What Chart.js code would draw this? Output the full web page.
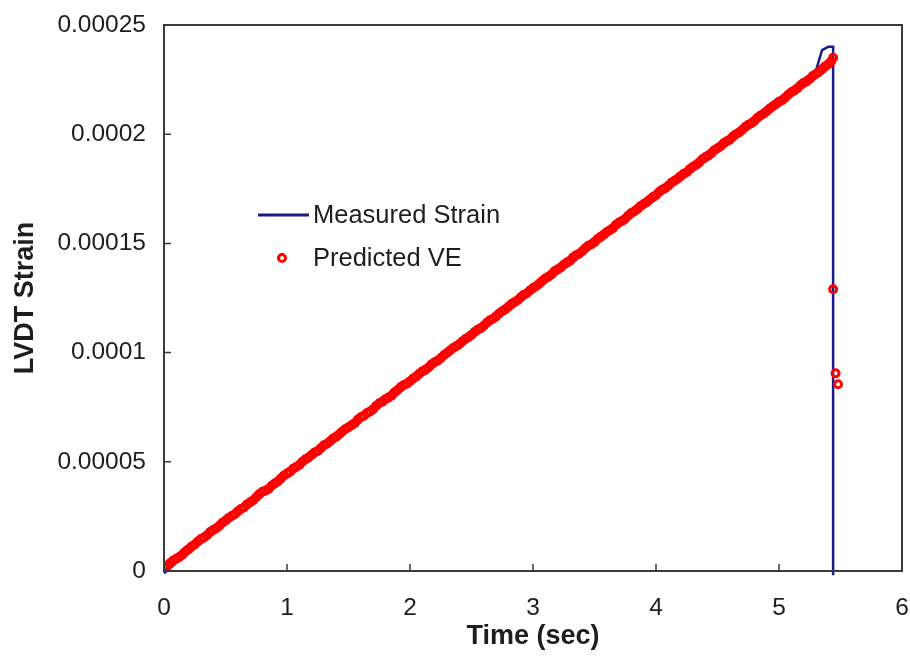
<!DOCTYPE html>
<html>
<head>
<meta charset="utf-8">
<script src="https://cdn.jsdelivr.net/npm/chart.js@4.4.1/dist/chart.umd.min.js"></script>
<style>
  html, body { margin: 0; padding: 0; background: #fff; }
  #wrap { width: 910px; height: 656px; }
</style>
</head>
<body>
<div id="wrap"><canvas id="strainChart" width="910" height="656"></canvas></div>
<script>
// measured LVDT record: time (sec) and strain (microstrain)
const measuredTime = [
  0, 0.05, 0.1, 0.15, 0.2, 0.25, 0.3, 0.35, 0.4, 0.45,
  0.5, 0.55, 0.6, 0.65, 0.7, 0.75, 0.8, 0.85, 0.9, 0.95,
  1, 1.05, 1.1, 1.15, 1.2, 1.25, 1.3, 1.35, 1.4, 1.45,
  1.5, 1.55, 1.6, 1.65, 1.7, 1.75, 1.8, 1.85, 1.9, 1.95,
  2, 2.05, 2.1, 2.15, 2.2, 2.25, 2.3, 2.35, 2.4, 2.45,
  2.5, 2.55, 2.6, 2.65, 2.7, 2.75, 2.8, 2.85, 2.9, 2.95,
  3, 3.05, 3.1, 3.15, 3.2, 3.25, 3.3, 3.35, 3.4, 3.45,
  3.5, 3.55, 3.6, 3.65, 3.7, 3.75, 3.8, 3.85, 3.9, 3.95,
  4, 4.05, 4.1, 4.15, 4.2, 4.25, 4.3, 4.35, 4.4, 4.45,
  4.5, 4.55, 4.6, 4.65, 4.7, 4.75, 4.8, 4.85, 4.9, 4.95,
  5, 5.05, 5.1, 5.15, 5.2, 5.25, 5.3, 5.35, 5.4, 5.44, 5.44
];
const measuredMicro = [
  -1.0, 1.2, 3.8, 6.0, 8.1, 10.6, 12.8, 15.1, 17.0, 19.6,
  21.5, 23.9, 25.8, 28.0, 30.2, 32.4, 34.9, 36.5, 38.8, 41.2,
  43.0, 45.5, 47.3, 49.8, 51.9, 53.6, 56.3, 58.1, 60.4, 62.6,
  64.5, 66.8, 69.0, 71.1, 73.0, 75.6, 77.4, 79.5, 81.8, 84.0,
  85.9, 88.0, 90.3, 92.1, 94.6, 96.5, 98.7, 101.0, 102.9, 105.2,
  107.3, 109.5, 111.4, 113.8, 115.7, 118.0, 120.1, 122.2, 124.4, 126.4,
  128.7, 130.7, 133.0, 135.0, 137.2, 139.4, 141.3, 143.7, 145.6, 148.1,
  149.9, 152.2, 154.4, 156.3, 158.8, 160.6, 163.1, 165.0, 167.3, 169.4,
  171.4, 173.8, 175.7, 178.0, 180.1, 182.0, 184.4, 186.4, 188.7, 190.7,
  192.9, 195.1, 196.9, 199.3, 201.3, 203.6, 205.5, 207.9, 209.9, 212.1,
  214.2, 216.1, 218.5, 220.5, 222.9, 225.2, 229.0, 238.5, 240.0, 240.0, -2.0
];

// viscoelastic prediction: time (sec) and strain (microstrain)
const predictedTime = [
  0, 0.025, 0.05, 0.075, 0.1, 0.125, 0.15, 0.175, 0.2, 0.225,
  0.25, 0.275, 0.3, 0.325, 0.35, 0.375, 0.4, 0.425, 0.45, 0.475,
  0.5, 0.525, 0.55, 0.575, 0.6, 0.625, 0.65, 0.675, 0.7, 0.725,
  0.75, 0.775, 0.8, 0.825, 0.85, 0.875, 0.9, 0.925, 0.95, 0.975,
  1, 1.025, 1.05, 1.075, 1.1, 1.125, 1.15, 1.175, 1.2, 1.225,
  1.25, 1.275, 1.3, 1.325, 1.35, 1.375, 1.4, 1.425, 1.45, 1.475,
  1.5, 1.525, 1.55, 1.575, 1.6, 1.625, 1.65, 1.675, 1.7, 1.725,
  1.75, 1.775, 1.8, 1.825, 1.85, 1.875, 1.9, 1.925, 1.95, 1.975,
  2, 2.025, 2.05, 2.075, 2.1, 2.125, 2.15, 2.175, 2.2, 2.225,
  2.25, 2.275, 2.3, 2.325, 2.35, 2.375, 2.4, 2.425, 2.45, 2.475,
  2.5, 2.525, 2.55, 2.575, 2.6, 2.625, 2.65, 2.675, 2.7, 2.725,
  2.75, 2.775, 2.8, 2.825, 2.85, 2.875, 2.9, 2.925, 2.95, 2.975,
  3, 3.025, 3.05, 3.075, 3.1, 3.125, 3.15, 3.175, 3.2, 3.225,
  3.25, 3.275, 3.3, 3.325, 3.35, 3.375, 3.4, 3.425, 3.45, 3.475,
  3.5, 3.525, 3.55, 3.575, 3.6, 3.625, 3.65, 3.675, 3.7, 3.725,
  3.75, 3.775, 3.8, 3.825, 3.85, 3.875, 3.9, 3.925, 3.95, 3.975,
  4, 4.025, 4.05, 4.075, 4.1, 4.125, 4.15, 4.175, 4.2, 4.225,
  4.25, 4.275, 4.3, 4.325, 4.35, 4.375, 4.4, 4.425, 4.45, 4.475,
  4.5, 4.525, 4.55, 4.575, 4.6, 4.625, 4.65, 4.675, 4.7, 4.725,
  4.75, 4.775, 4.8, 4.825, 4.85, 4.875, 4.9, 4.925, 4.95, 4.975,
  5, 5.025, 5.05, 5.075, 5.1, 5.125, 5.15, 5.175, 5.2, 5.225,
  5.25, 5.275, 5.3, 5.325, 5.35, 5.375, 5.4, 5.425, 5.44,
  5.44, 5.46, 5.48
];
const predictedMicro = [
  1.5, 2.4, 3.6, 4.8, 5.6, 6.4, 7.5, 8.9, 10.0, 11.2,
  12.1, 13.5, 14.6, 15.3, 16.4, 17.8, 18.8, 19.6, 20.7, 22.1,
  23.0, 24.3, 25.2, 26.0, 27.3, 28.4, 29.1, 30.5, 31.5, 32.4,
  33.8, 35.2, 36.3, 36.8, 37.6, 39.0, 40.1, 41.0, 42.3, 43.7,
  44.6, 45.5, 46.8, 47.6, 48.5, 50.0, 51.2, 52.0, 53.1, 54.3,
  55.0, 56.2, 57.6, 58.3, 59.4, 60.7, 61.5, 62.6, 63.9, 65.0,
  65.8, 66.7, 67.7, 69.2, 70.4, 71.1, 72.3, 73.0, 74.1, 75.6,
  76.8, 77.5, 78.6, 79.4, 80.3, 81.8, 82.9, 84.2, 85.2, 85.8,
  86.9, 88.1, 89.0, 90.3, 91.4, 92.1, 93.2, 94.6, 95.6, 96.3,
  97.4, 98.8, 99.8, 101.0, 102.1, 102.9, 103.8, 105.1, 106.2, 107.0,
  108.1, 109.4, 110.5, 111.2, 112.3, 113.7, 114.8, 115.5, 116.6, 117.9,
  118.9, 119.8, 121.0, 122.2, 123.1, 124.0, 125.3, 126.5, 127.2, 128.4,
  129.6, 130.4, 131.5, 132.8, 133.9, 134.7, 135.8, 137.2, 138.1, 139.0,
  140.2, 141.2, 142.0, 143.5, 144.6, 145.3, 146.4, 147.8, 148.9, 149.6,
  150.6, 152.0, 153.0, 154.0, 155.2, 156.0, 157.0, 158.5, 159.6, 160.3,
  161.3, 162.8, 163.9, 164.7, 165.8, 167.1, 168.0, 168.9, 170.1, 171.2,
  172.1, 173.5, 174.6, 175.3, 176.4, 177.8, 178.7, 179.6, 180.8, 181.9,
  182.6, 184.0, 185.1, 185.9, 187.0, 188.4, 189.4, 190.2, 191.3, 192.7,
  193.6, 194.5, 195.8, 196.8, 197.5, 198.9, 200.0, 200.8, 201.9, 203.3,
  204.3, 205.0, 206.1, 207.5, 208.6, 209.4, 210.5, 211.8, 212.8, 213.7,
  214.9, 215.6, 216.7, 218.1, 219.2, 220.0, 221.0, 222.4, 223.5, 224.2,
  225.3, 226.7, 227.6, 228.5, 229.7, 231.0, 232.0, 233.4, 235.0,
  129.0, 90.5, 85.5
];

const xTicks = [0, 1, 2, 3, 4, 5, 6];
const yTicks = [0, 0.00005, 0.0001, 0.00015, 0.0002, 0.00025];

const toPoints = (ts, us) => ts.map((t, i) => ({ x: t, y: us[i] / 1e6 }));

const FONT = "'Liberation Sans', Arial, sans-serif";
const INK = '#1e1e1e';

// box around the plot plus inward tick marks
const frameTicks = {
  id: 'frameTicks',
  afterDatasetsDraw(chart) {
    const { ctx, chartArea: a, scales } = chart;
    ctx.save();
    ctx.strokeStyle = '#3a3a3a';
    ctx.lineWidth = 2;
    ctx.strokeRect(a.left, a.top, a.right - a.left, a.bottom - a.top);
    ctx.lineWidth = 1.5;
    ctx.beginPath();
    xTicks.forEach(v => {
      const px = scales.x.getPixelForValue(v);
      ctx.moveTo(px, a.bottom);
      ctx.lineTo(px, a.bottom - 7);
    });
    yTicks.forEach(v => {
      const py = scales.y.getPixelForValue(v);
      ctx.moveTo(a.left, py);
      ctx.lineTo(a.left + 7, py);
    });
    ctx.stroke();
    ctx.restore();
  }
};

// legend floating inside the plot, left of centre
const floatLegend = {
  id: 'floatLegend',
  afterDraw(chart) {
    const { ctx } = chart;
    const [m, p] = chart.data.datasets;
    ctx.save();
    ctx.font = '25.5px ' + FONT;
    ctx.fillStyle = INK;
    ctx.textBaseline = 'middle';

    ctx.strokeStyle = m.borderColor;
    ctx.lineWidth = 3;
    ctx.beginPath();
    ctx.moveTo(258, 215);
    ctx.lineTo(309, 215);
    ctx.stroke();
    ctx.fillText(m.label, 313, 216);

    ctx.strokeStyle = p.pointBorderColor;
    ctx.lineWidth = p.pointBorderWidth;
    ctx.beginPath();
    ctx.arc(282, 258, p.pointRadius, 0, Math.PI * 2);
    ctx.stroke();
    ctx.fillText(p.label, 313, 259);
    ctx.restore();
  }
};

new Chart(document.getElementById('strainChart'), {
  type: 'scatter',
  data: {
    datasets: [
      {
        label: 'Measured Strain',
        data: toPoints(measuredTime, measuredMicro),
        showLine: true,
        borderColor: '#1b1b8c',
        borderWidth: 2.5,
        pointRadius: 0,
        tension: 0,
        clip: false,
        order: 2
      },
      {
        label: 'Predicted VE',
        data: toPoints(predictedTime, predictedMicro),
        showLine: false,
        pointStyle: 'circle',
        pointRadius: 3.5,
        pointBorderWidth: 3,
        pointBorderColor: '#ff0000',
        pointBackgroundColor: 'rgba(0,0,0,0)',
        order: 1
      }
    ]
  },
  options: {
    responsive: false,
    animation: false,
    layout: { padding: { top: 25, right: 8, left: 0, bottom: 0 } },
    plugins: {
      legend: { display: false },
      tooltip: { enabled: false }
    },
    scales: {
      x: {
        type: 'linear',
        min: 0,
        max: 6,
        afterFit: s => { s.height = 85; s.paddingLeft = 0; s.paddingRight = 0; },
        afterBuildTicks: s => { s.ticks = xTicks.map(v => ({ value: v })); },
        grid: { display: false, drawTicks: false },
        border: { display: false },
        ticks: {
          padding: 23,
          color: INK,
          font: { family: FONT, size: 24.5 },
          callback: v => String(v)
        },
        title: {
          display: true,
          text: 'Time (sec)',
          color: INK,
          padding: { top: 0, bottom: 3 },
          font: { family: FONT, size: 27, weight: 'bold' }
        }
      },
      y: {
        type: 'linear',
        min: 0,
        max: 0.00025,
        afterFit: s => { s.width = 164; s.paddingTop = 0; s.paddingBottom = 0; },
        afterBuildTicks: s => { s.ticks = yTicks.map(v => ({ value: v })); },
        grid: { display: false, drawTicks: false },
        border: { display: false },
        ticks: {
          padding: 18,
          color: INK,
          font: { family: FONT, size: 24.5 },
          callback: v => String(Number(v.toFixed(5)))
        },
        title: {
          display: true,
          text: 'LVDT Strain',
          color: INK,
          padding: { top: 9, bottom: 0 },
          font: { family: FONT, size: 27, weight: 'bold' }
        }
      }
    }
  },
  plugins: [frameTicks, floatLegend]
});
</script>
</body>
</html>
